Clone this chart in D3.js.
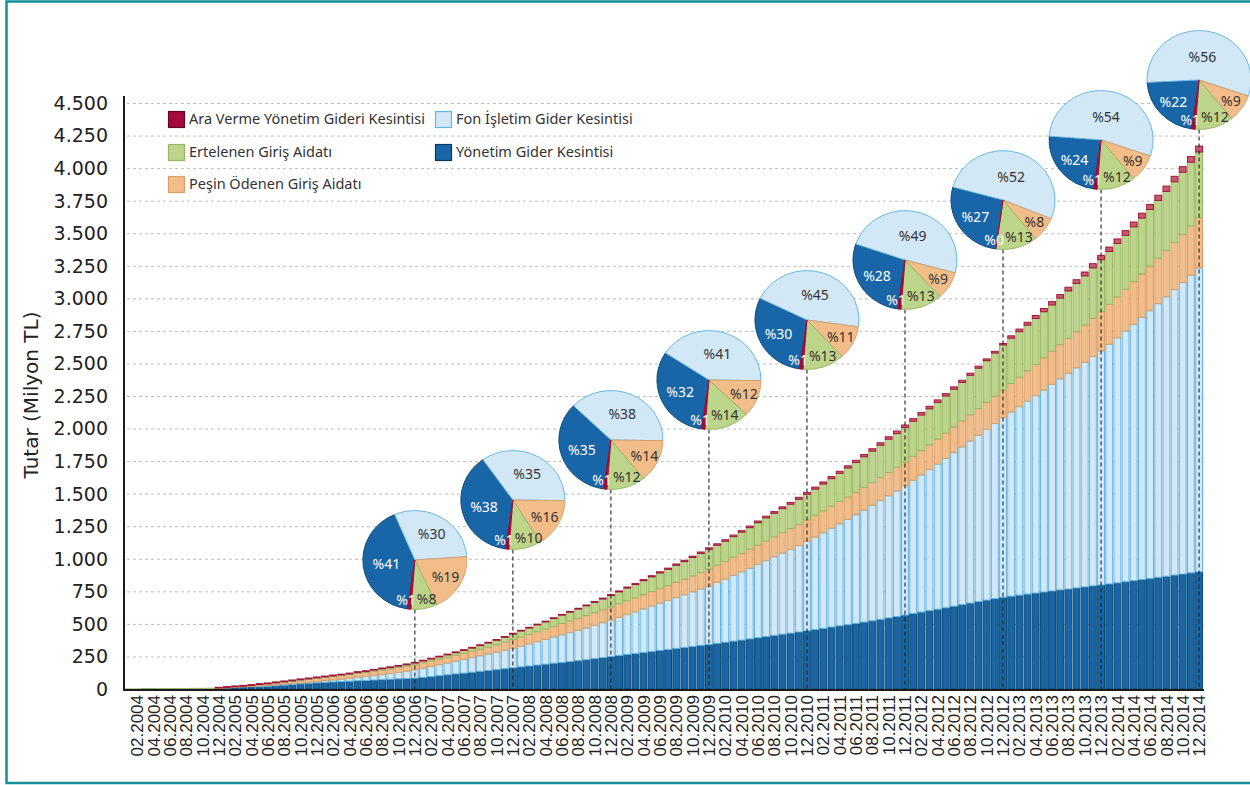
<!DOCTYPE html>
<html><head><meta charset="utf-8">
<script src="https://cdn.jsdelivr.net/npm/d3@7/dist/d3.min.js"></script>
<style>body{margin:0;background:#fff}svg{display:block}</style>
</head><body>
<svg id="c" width="1250" height="785"></svg>
<script>
// ---------- DATA ----------
const years = [2004,2005,2006,2007,2008,2009,2010,2011,2012,2013,2014];
const monthCodes = ["01","02","03","04","05","06","07","08","09","10","11","12"];

const yonetim = [
 0,0,1,1,1,1,2,2,2,2,3,7,
 10,13,16,19,23,26,30,33,37,41,44,48,
 51,54,57,60,64,66,69,72,75,78,81,84,
 90,96,103,109,116,122,129,136,142,149,156,163,
 170,177,184,191,198,204,211,218,225,233,241,250,
 258,266,273,281,289,297,304,312,319,327,335,342,
 351,359,368,376,385,394,403,412,421,429,438,447,
 457,466,476,485,494,504,514,524,535,546,557,568,
 580,591,602,613,624,636,648,660,672,683,694,705,
 713,721,729,737,745,753,761,768,776,784,792,799,
 807,815,824,832,841,849,858,866,875,883,892,900];

const fon = [
 0,0,0,0,0,0,0,0,0,0,0,0,
 0,0,0,0,1,1,2,3,4,6,8,10,
 13,16,19,22,27,30,35,39,44,50,56,64,
 70,77,84,91,98,105,112,119,127,134,142,150,
 160,170,180,190,201,212,222,232,244,256,268,280,
 293,307,320,334,348,362,376,391,405,420,434,449,
 467,485,505,524,543,563,583,603,623,643,664,686,
 710,734,759,784,809,834,860,886,912,938,965,993,
 1023,1053,1084,1115,1147,1179,1211,1244,1277,1311,1345,1380,
 1414,1448,1482,1516,1551,1586,1621,1656,1691,1726,1762,1798,
 1840,1882,1925,1968,2012,2056,2101,2146,2192,2238,2286,2334];

const pesin = [
 0,0,0,0,1,1,1,1,1,1,1,3,
 4,5,6,8,10,12,14,17,19,20,22,24,
 25,26,27,28,29,31,33,35,36,37,38,39,
 42,43,43,44,45,47,49,51,53,57,62,68,
 71,73,76,79,83,87,90,93,95,97,99,101,
 103,105,107,109,111,113,115,117,119,122,126,130,
 133,136,139,142,145,148,151,154,157,160,163,166,
 167,168,169,171,172,173,175,176,177,179,180,182,
 184,187,189,192,194,197,199,202,204,207,209,212,
 219,226,233,240,248,255,262,270,277,285,292,300,
 307,314,321,328,335,342,349,356,363,370,377,385];

const ertelenen = [
 1,1,1,1,1,1,1,1,2,2,2,2,
 3,4,5,5,6,6,7,7,7,8,8,8,
 8,9,9,10,11,11,12,13,13,14,15,16,
 17,18,19,21,23,25,27,30,33,36,39,43,
 46,49,53,56,60,64,67,71,75,79,83,87,
 92,97,102,108,113,119,124,130,135,141,146,152,
 153,155,158,162,166,172,177,180,184,187,192,196,
 201,206,211,216,222,228,234,241,248,255,259,264,
 269,273,277,281,285,290,296,303,311,320,332,345,
 348,349,350,352,353,355,358,363,370,377,388,400,
 406,410,414,421,428,435,444,453,465,477,490,505];

const araVerme = [
 0,0,0,0,0,0,0,0,0,0,0,1,
 1,1,1,1,1,1,1,1,2,2,2,2,
 2,2,2,2,2,2,2,2,2,2,2,2,
 2,2,3,3,3,3,3,3,4,4,4,4,
 4,5,5,5,5,6,6,6,6,7,7,7,
 7,8,8,8,9,9,9,10,10,10,11,11,
 11,11,12,12,12,13,13,13,14,14,15,15,
 15,16,16,16,17,17,18,18,19,19,20,20,
 20,20,19,19,18,18,17,16,15,14,13,12,
 18,20,22,23,25,26,27,28,29,30,32,33,
 34,35,36,37,38,39,40,41,42,43,44,45];

// December pie shares (%), 2006 ... 2014
const pieYears      = [2006,2007,2008,2009,2010,2011,2012,2013,2014];
const pieYonetim    = [41,38,35,32,30,28,27,24,22];
const pieFon        = [30,35,38,41,45,49,52,54,56];
const piePesin      = [19,16,14,12,11,9,8,9,9];
const pieErtelenen  = [8,10,12,14,13,13,13,12,12];
const pieAra        = [1,1,1,1,1,1,0,1,1];

const yTicks = [0,250,500,750,1000,1250,1500,1750,2000,2250,2500,2750,3000,3250,3500,3750,4000,4250,4500];

// ---------- BUILD ----------
const categories = [];
years.forEach(yr => monthCodes.forEach(m => categories.push(m + "." + yr)));

const series = [
 {key:"yonetim",   name:"Yönetim Gider Kesintisi",            values:yonetim,   pie:pieYonetim,   fill:"#1865a8", stroke:"#0e4a6c", legendFill:"#1865a8", legendStroke:"#0b3a58", label:"#ffffff"},
 {key:"fon",       name:"Fon İşletim Gider Kesintisi",        values:fon,       pie:pieFon,       fill:"#d3e8f7", stroke:"#62b6e3", legendFill:"#d3e8f7", legendStroke:"#62b6e3", label:"#333333"},
 {key:"pesin",     name:"Peşin Ödenen Giriş Aidatı",          values:pesin,     pie:piePesin,     fill:"#f2bd88", stroke:"#d8a06b", legendFill:"#f2bd88", legendStroke:"#d8a06b", label:"#333333"},
 {key:"ertelenen", name:"Ertelenen Giriş Aidatı",             values:ertelenen, pie:pieErtelenen, fill:"#bdd58b", stroke:"#99b767", legendFill:"#bdd58b", legendStroke:"#99b767", label:"#333333"},
 {key:"ara",       name:"Ara Verme Yönetim Gideri Kesintisi", values:araVerme,  pie:pieAra,       fill:"#c65b6c", stroke:"#a3163f", legendFill:"#a50a3a", legendStroke:"#5e0a22", label:"#ffffff"}
];

const table = categories.map((c,i) => {
  const row = {i:i, cat:c};
  series.forEach(s => row[s.key] = s.values[i]);
  return row;
});

const W = 1250, H = 785;
const svg = d3.select("#c");
svg.append("rect").attr("width",W).attr("height",H).attr("fill","#fff");
// frame
svg.append("rect").attr("x",6.5).attr("y",1.5).attr("width",1260).attr("height",781.5)
  .attr("fill","none").attr("stroke","#168e98").attr("stroke-width",2.5);

const x = d3.scaleBand().domain(d3.range(categories.length)).range([125,1203]).paddingInner(0.04).paddingOuter(0);
const y = d3.scaleLinear().domain([0,4500]).range([689,103]);
const bw = x.bandwidth();

// gridlines
svg.append("g").selectAll("line").data(yTicks.filter(t=>t>0)).join("line")
  .attr("x1",127).attr("x2",1206).attr("y1",d=>y(d)+0.5).attr("y2",d=>y(d)+0.5)
  .attr("stroke","#bdbdbd").attr("stroke-width",1).attr("stroke-dasharray","3,3");

// y labels
const trFmt = d3.formatLocale({decimal:",", thousands:".", grouping:[3], currency:["","TL"]}).format(",d");
svg.append("g").selectAll("text").data(yTicks).join("text")
  .attr("x",108).attr("y",d=>y(d)).attr("dy","0.36em").attr("text-anchor","end")
  .attr("font-family","DejaVu Sans, Verdana, sans-serif").attr("font-size",19).attr("fill","#222")
  .text(d=>trFmt(d));

svg.append("text").attr("transform","translate(31,395) rotate(-90)").attr("text-anchor","middle")
  .attr("dy","0.35em").attr("font-family","DejaVu Sans, Verdana, sans-serif").attr("font-size",20)
  .attr("fill","#222").text("Tutar (Milyon TL)");

// stacked bars
const stack = d3.stack().keys(series.map(s=>s.key));
const layers = stack(table);
const gBars = svg.append("g");
layers.forEach((layer, li) => {
  const s = series[li];
  gBars.append("g").selectAll("rect").data(layer.filter(d => d[1]-d[0] > 0)).join("rect")
    .attr("x", d => x(d.data.i)+0.5)
    .attr("width", bw-1)
    .attr("y", d => y(d[1]))
    .attr("height", d => Math.max(0.8, y(d[0]) - y(d[1])))
    .attr("fill", s.fill).attr("stroke", s.stroke).attr("stroke-width",1);
});

// axes lines
svg.append("line").attr("x1",124).attr("x2",124).attr("y1",96).attr("y2",690.5).attr("stroke","#1a1a1a").attr("stroke-width",2);
svg.append("line").attr("x1",123).attr("x2",1204).attr("y1",690).attr("y2",690).attr("stroke","#1a1a1a").attr("stroke-width",2);

// x labels every second month
svg.append("g").selectAll("text").data(table.filter(d => d.i % 2 === 1)).join("text")
  .attr("transform", d => `translate(${x(d.i)+bw/2},695) rotate(-90)`)
  .attr("text-anchor","end").attr("dy","0.36em")
  .attr("font-family","Liberation Sans, Arial, sans-serif").attr("font-size",17).attr("fill","#222")
  .text(d => d.cat);

// pies
const R = 52, sy = 0.95;
const deg = Math.PI/180;
const pieGen = d3.pie().sort(null).value(d=>d.v).startAngle(188*deg).endAngle(548*deg);
const arc = d3.arc().innerRadius(0).outerRadius(R);
const gPies = svg.append("g");
pieYears.forEach((yr, pi) => {
  const decIdx = categories.indexOf("12." + yr);
  const cx = x(decIdx) + bw/2;
  const cy = 320 - 60*(pi-4);
  // dashed connector
  gPies.append("line").attr("x1",cx).attr("x2",cx).attr("y1",cy+R*sy).attr("y2",689)
    .attr("stroke","#222").attr("stroke-width",1.1).attr("stroke-dasharray","4,3");
  const slices = pieGen(series.map(s => ({s:s, v:s.pie[pi]})));
  const g = gPies.append("g").attr("transform",`translate(${cx},${cy}) scale(1,${sy})`);
  g.selectAll("path").data(slices).join("path").attr("d",arc)
    .attr("fill", d => d.data.s.key==="ara" ? "#a50a3a" : d.data.s.fill)
    .attr("stroke", d => d.data.s.key==="ara" ? "#a50a3a" : d.data.s.stroke)
    .attr("stroke-width",1).attr("stroke-linejoin","round");
  const total = d3.sum(slices, d=>d.data.v);
  slices.forEach(d => {
    const key = d.data.s.key;
    const t = gPies.append("text").attr("dy","0.36em")
      .attr("font-family","Noto Sans, Tahoma, sans-serif").attr("font-size",14)
      .attr("fill", d.data.s.label).text("%" + d.data.v);
    if (key === "ara") {
      // small slice label sits just left of the red wedge, near the rim
      t.attr("text-anchor","end").attr("x", cx + 1).attr("y", cy + R*0.8*sy);
    } else {
      const a = (d.startAngle + d.endAngle)/2;
      const f = 0.8 - 0.6*d.data.v/total + (key === "ertelenen" ? 0.05 : 0);
      let tx = cx + Math.sin(a)*R*f;
      const ty = cy - Math.cos(a)*R*f*sy;
      t.attr("text-anchor","middle").attr("y", ty).attr("x", tx);
      if (key === "ertelenen") {
        const w = t.node().getComputedTextLength();
        if (tx - w/2 < cx + 2) tx = cx + 2 + w/2;
        t.attr("x", tx);
      }
    }
  });
});

// legend
const legendLayout = [
  {key:"ara", col:0, row:0},{key:"ertelenen", col:0, row:1},{key:"pesin", col:0, row:2},
  {key:"fon", col:1, row:0},{key:"yonetim", col:1, row:1}
];
const colX = [168, 435], rowY = [119, 152, 184];
const gLeg = svg.append("g");
legendLayout.forEach(l => {
  const s = series.find(t => t.key === l.key);
  const lx = colX[l.col], ly = rowY[l.row];
  gLeg.append("rect").attr("x",lx+0.5).attr("y",ly-7.5).attr("width",16).attr("height",16)
    .attr("fill",s.legendFill).attr("stroke",s.legendStroke).attr("stroke-width",1.2);
  gLeg.append("text").attr("x",lx+21).attr("y",ly).attr("dy","0.36em")
    .attr("font-family","Noto Sans, Tahoma, sans-serif").attr("font-size",14.5).attr("fill","#333")
    .text(s.name);
});
</script>
</body></html>
